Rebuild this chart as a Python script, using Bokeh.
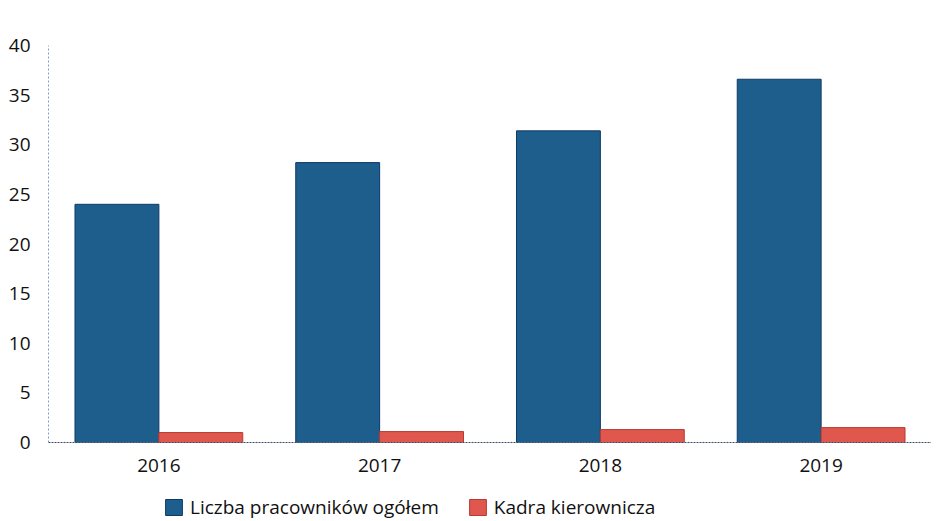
from bokeh.plotting import figure
from bokeh.layouts import column
from bokeh.models import Range1d, Legend, LegendItem, FixedTicker, ColumnDataSource
from bokeh.transform import dodge
from bokeh.embed import file_html
from bokeh.resources import INLINE

years = ["2016", "2017", "2018", "2019"]
total_staff = [24.0, 28.2, 31.4, 36.6]
management = [1.0, 1.1, 1.3, 1.5]
y_ticks = [0, 5, 10, 15, 20, 25, 30, 35, 40]
series_names = ["Liczba pracowników ogółem", "Kadra kierownicza"]
series_colors = ["#1d5e8c", "#e0574d"]
series_lines = ["#0f3a66", "#b83a32"]

src = ColumnDataSource(dict(years=years, total=total_staff, mgmt=management))

p = figure(frame_width=883, frame_height=397, x_range=years, y_range=Range1d(0, 40),
           output_backend="svg", toolbar_location=None,
           min_border_left=48, min_border_right=0, min_border_top=45, min_border_bottom=40)
p.outline_line_color = None
p.grid.grid_line_color = None

p.vbar(x=dodge("years", -0.19, range=p.x_range), top="total", width=0.38, source=src,
       fill_color=series_colors[0], line_color=series_lines[0], line_width=1)
p.vbar(x=dodge("years", 0.19, range=p.x_range), top="mgmt", width=0.38, source=src,
       fill_color=series_colors[1], line_color=series_lines[1], line_width=1)

p.yaxis.ticker = FixedTicker(ticks=y_ticks)
p.yaxis.major_tick_line_color = None
p.yaxis.minor_tick_line_color = None
p.yaxis.axis_line_color = "#7f9fd0"
p.yaxis.axis_line_dash = "2 2"
p.yaxis.major_label_text_font = "Open Sans"
p.yaxis.major_label_text_font_size = "19px"
p.yaxis.major_label_text_color = "#111111"
p.yaxis.major_label_standoff = 12

p.xaxis.major_tick_line_color = None
p.xaxis.minor_tick_line_color = None
p.xaxis.axis_line_color = "#3a4a66"
p.xaxis.axis_line_dash = "2 1"
p.xaxis.major_label_text_font = "Open Sans"
p.xaxis.major_label_text_font_size = "19px"
p.xaxis.major_label_text_color = "#111111"
p.xaxis.major_label_standoff = 10

# legend strip below the chart (swatch renderers are hidden; only their legend glyphs show)
p2 = figure(frame_width=883, frame_height=38, output_backend="svg", toolbar_location=None,
            x_axis_type=None, y_axis_type=None,
            min_border_left=48, min_border_right=0, min_border_top=0, min_border_bottom=0,
            x_range=Range1d(0, 1), y_range=Range1d(0, 1))
p2.outline_line_color = None
p2.grid.grid_line_color = None
swatch = ColumnDataSource(dict(x=[0.5], top=[1.0]))
r1 = p2.vbar(x="x", top="top", width=0.1, source=swatch,
             fill_color=series_colors[0], line_color=series_lines[0])
r2 = p2.vbar(x="x", top="top", width=0.1, source=swatch,
             fill_color=series_colors[1], line_color=series_lines[1])
r1.visible = False
r2.visible = False

legend = Legend(items=[LegendItem(label=series_names[0], renderers=[r1]),
                       LegendItem(label=series_names[1], renderers=[r2])],
                orientation="horizontal", location=(115, 0))
legend.label_text_font = "Open Sans"
legend.label_text_font_size = "19px"
legend.label_text_color = "#111111"
legend.border_line_color = None
legend.background_fill_alpha = 0
legend.inactive_fill_alpha = 0
legend.glyph_width = 21
legend.glyph_height = 20
legend.spacing = 28
legend.label_standoff = 6
legend.margin = 0
legend.padding = 0
p2.add_layout(legend, "center")

layout = column(p, p2, spacing=0)
open("out.html", "w").write(file_html(layout, INLINE))
